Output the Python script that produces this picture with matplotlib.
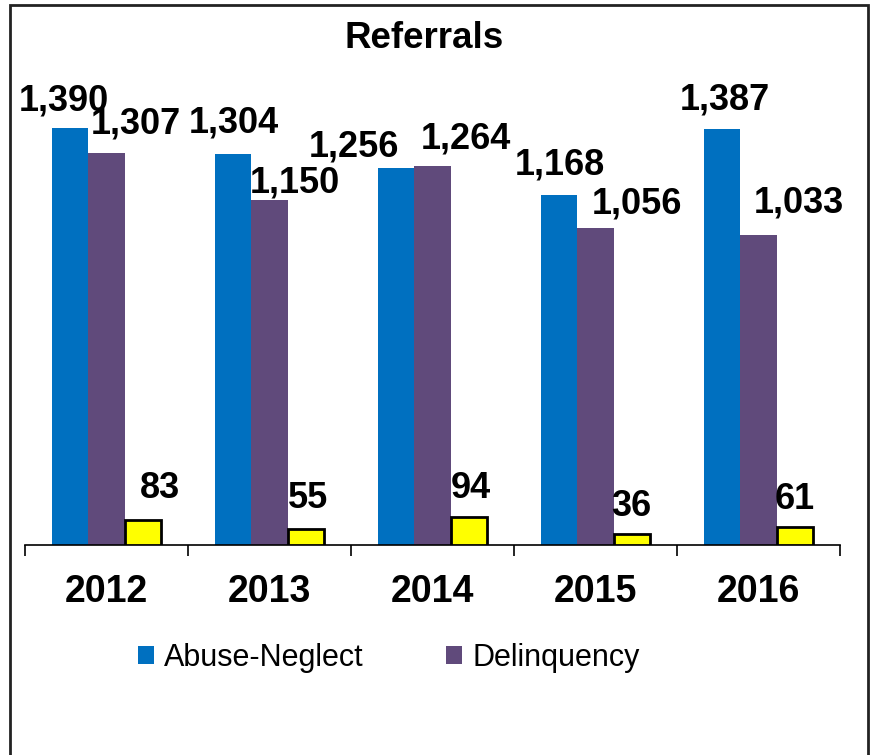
import matplotlib.pyplot as plt
from matplotlib.patches import Rectangle

plt.rcParams["font.family"] = ["Liberation Sans", "DejaVu Sans"]

years = ["2012", "2013", "2014", "2015", "2016"]
abuse_neglect = [1390, 1304, 1256, 1168, 1387]
delinquency = [1307, 1150, 1264, 1056, 1033]
other = [83, 55, 94, 36, 61]

# label nudges in pixels (dx, dy) as placed in the original chart
abuse_off = [(-7, 17), (0, 21), (-43, 12), (0, 20), (2, 19)]
delinq_off = [(29, 19), (25, 8), (33, 17), (41, 15), (40, 23)]
other_off = [(17, 22), (2, 20), (2, 19), (0, 18), (0, 18)]

BLUE = "#0070C0"
PURPLE = "#604A7B"
YELLOW = "#FFFF00"
FONTSIZE = 26

fig = plt.figure(figsize=(8.75, 7.55), dpi=100)
ax = fig.add_axes([25 / 875, 1 - 545 / 755, 815 / 875, 480 / 755])

x = list(range(len(years)))
w = 0.221
b1 = ax.bar([i - w for i in x], abuse_neglect, w, color=BLUE, label="Abuse-Neglect")
b2 = ax.bar(x, delinquency, w, color=PURPLE, label="Delinquency")
b3 = ax.bar([i + w for i in x], other, w, color=YELLOW, edgecolor="black",
            linewidth=2, label="_nolegend_", zorder=3)

for bars, vals, offs in [(b1, abuse_neglect, abuse_off), (b2, delinquency, delinq_off), (b3, other, other_off)]:
    for rect, v, (dx, dy) in zip(bars, vals, offs):
        ax.annotate(f"{v:,}", (rect.get_x() + rect.get_width() / 2, rect.get_height()),
                    xytext=(dx, dy), textcoords="offset pixels", ha="center", va="baseline",
                    fontsize=FONTSIZE, fontweight="bold")

ax.set_xlim(-0.5, len(years) - 0.5)
ax.set_ylim(0, 1600)
ax.set_xticks(x)
ax.set_xticklabels(years, fontsize=27, fontweight="bold")
ax.set_xticks([i - 0.5 for i in range(len(years) + 1)], minor=True)
ax.tick_params(axis="x", which="major", length=0, pad=21)
ax.tick_params(axis="x", which="minor", length=8, width=1.2, direction="out")
ax.set_yticks([])
for s in ["left", "right", "top"]:
    ax.spines[s].set_visible(False)
ax.spines["bottom"].set_linewidth(1.2)

fig.text(424 / 875, 1 - 48 / 755, "Referrals", ha="center", va="baseline",
         fontsize=26.5, fontweight="bold")

fig.legend(handles=[b1, b2], labels=["Abuse-Neglect", "Delinquency"], ncol=2,
           loc="center", bbox_to_anchor=(389 / 875, 1 - 658 / 755), frameon=False,
           fontsize=22, handlelength=0.5, handleheight=0.5, handletextpad=0.35,
           columnspacing=2.7)

fig.add_artist(Rectangle((10 / 875, -0.01), 858 / 875, 1 - 5 / 755 + 0.01,
                         transform=fig.transFigure, fill=False, edgecolor="#222222",
                         linewidth=2))

plt.savefig("out.png", dpi=100)
